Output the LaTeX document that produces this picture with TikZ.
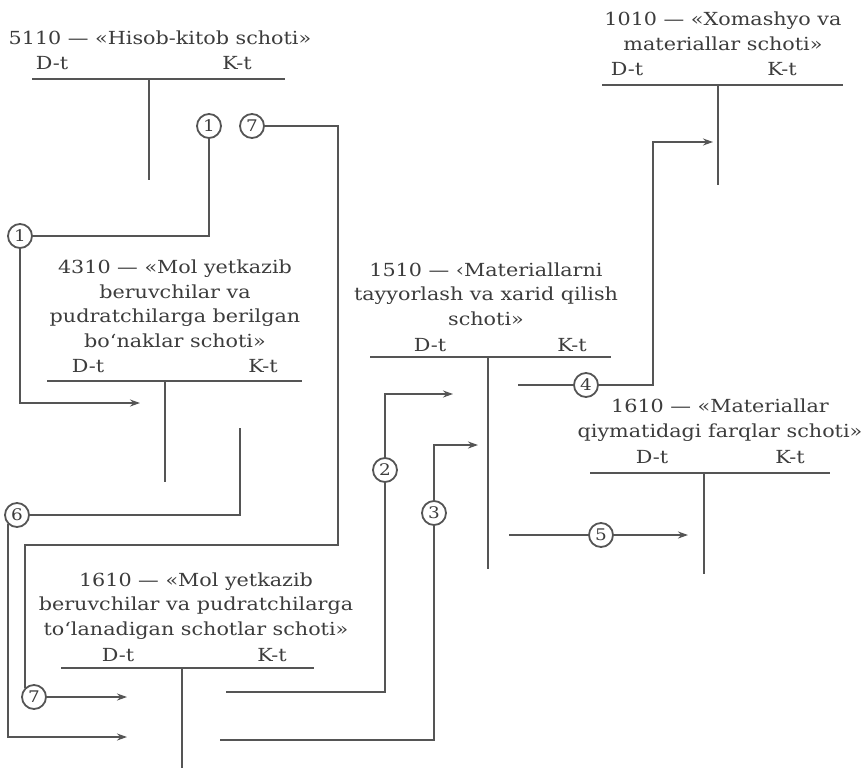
\documentclass[tikz,border=0pt]{standalone}
\usepackage{fontspec}
\setmainfont[FakeStretch=1.15]{DejaVu Serif}
\usetikzlibrary{arrows.meta}
\definecolor{lc}{HTML}{555555}
\definecolor{tc}{HTML}{3C3C3C}
\begin{document}
\begin{tikzpicture}[x=1pt,y=-1pt,
  ln/.style={draw=lc, line width=1.8pt},
  arr/.style={ln, -{Stealth[length=10pt,width=7pt]}},
  ttl/.style={text=tc, font=\fontsize{18}{24.5}\selectfont, align=center, inner sep=0pt, anchor=base},
  dk/.style={text=tc, font=\fontsize{18}{20}\selectfont, inner sep=0pt, anchor=base},
  num/.style={circle, draw=lc, line width=1.8pt, minimum size=24pt, inner sep=0pt, text=tc, font=\fontsize{16}{16}\selectfont},
]
\fill[white] (0,0) rectangle (866,768);
\useasboundingbox (0,0) rectangle (866,768);

% titles (anchor = baseline of last line)
\node[ttl] (t5110) at (160,45) {5110 — «Hisob-kitob schoti»};
\node[ttl] (t1010) at (723,50) {1010 — «Xomashyo va\\materiallar schoti»};
\node[ttl] (t4310) at (175,347) {4310 — «Mol yetkazib\\beruvchilar va\\pudratchilarga berilgan\\bo‘naklar schoti»};
\node[ttl] (t1510) at (486,325) {1510 — ‹Materiallarni\\tayyorlash va xarid qilish\\schoti»};
\node[ttl] (t1610m) at (720,437) {1610 — «Materiallar\\qiymatidagi farqlar schoti»};
\node[ttl] (t1610) at (196,635) {1610 — «Mol yetkazib\\beruvchilar va pudratchilarga\\to‘lanadigan schotlar schoti»};

% D-t / K-t
\node[dk] (d5110) at (52,69) {D-t};   \node[dk] (k5110) at (237,69) {K-t};
\node[dk] (d1010) at (627,75) {D-t};  \node[dk] (k1010) at (782,75) {K-t};
\node[dk] (d4310) at (88,372) {D-t};  \node[dk] (k4310) at (263,372) {K-t};
\node[dk] (d1510) at (430,351) {D-t}; \node[dk] (k1510) at (572,351) {K-t};
\node[dk] (d1610m) at (652,463) {D-t};\node[dk] (k1610m) at (790,463) {K-t};
\node[dk] (d1610) at (118,661) {D-t}; \node[dk] (k1610) at (272,661) {K-t};

% T-accounts
\draw[ln] (32,79) -- (285,79);  \draw[ln] (149,79) -- (149,180);
\draw[ln] (602,85) -- (843,85); \draw[ln] (718,85) -- (718,185);
\draw[ln] (47,381) -- (302,381); \draw[ln] (165,381) -- (165,482);
\draw[ln] (370,357) -- (611,357); \draw[ln] (488,357) -- (488,569);
\draw[ln] (590,473) -- (830,473); \draw[ln] (704,473) -- (704,574);
\draw[ln] (61,668) -- (314,668); \draw[ln] (182,668) -- (182,768);

% circles
\node[num] (c1a) at (209,126) {1};
\node[num] (c7a) at (252,126) {7};
\node[num] (c1b) at (20,236) {1};
\node[num] (c6) at (17,515) {6};
\node[num] (c7b) at (34,697) {7};
\node[num] (c2) at (385,470) {2};
\node[num] (c3) at (434,513) {3};
\node[num] (c4) at (586,385) {4};
\node[num] (c5) at (601,535) {5};

% free ends
\coordinate (e1) at (140,403);
\coordinate (k7) at (338,545);
\coordinate (e7) at (127,697);
\coordinate (s6) at (240,428);
\coordinate (e6) at (127,737);
\coordinate (s2) at (226,692);
\coordinate (e2) at (453,394);
\coordinate (s3) at (220,740);
\coordinate (e3) at (478,445);
\coordinate (s4) at (518,385);
\coordinate (k4) at (653,142);
\coordinate (e4) at (713,142);
\coordinate (s5) at (509,535);
\coordinate (e5) at (688,535);

% connectors
\draw[ln] (c1a.south) |- (c1b.east);
\draw[arr] (c1b.south) |- (e1);
\draw[ln] (c7a.east) -| (k7) -| (c7b.135);
\draw[arr] (c7b.east) -- (e7);
\draw[ln] (s6) |- (c6.east);
\draw[arr] (c6.225) |- (e6);
\draw[ln] (s2) -| (c2.south);
\draw[arr] (c2.north) |- (e2);
\draw[ln] (s3) -| (c3.south);
\draw[arr] (c3.north) |- (e3);
\draw[ln] (s4) -- (c4.west);
\draw[arr] (c4.east) -| (k4) -- (e4);
\draw[ln] (s5) -- (c5.west);
\draw[arr] (c5.east) -- (e5);
\end{tikzpicture}
\end{document}
